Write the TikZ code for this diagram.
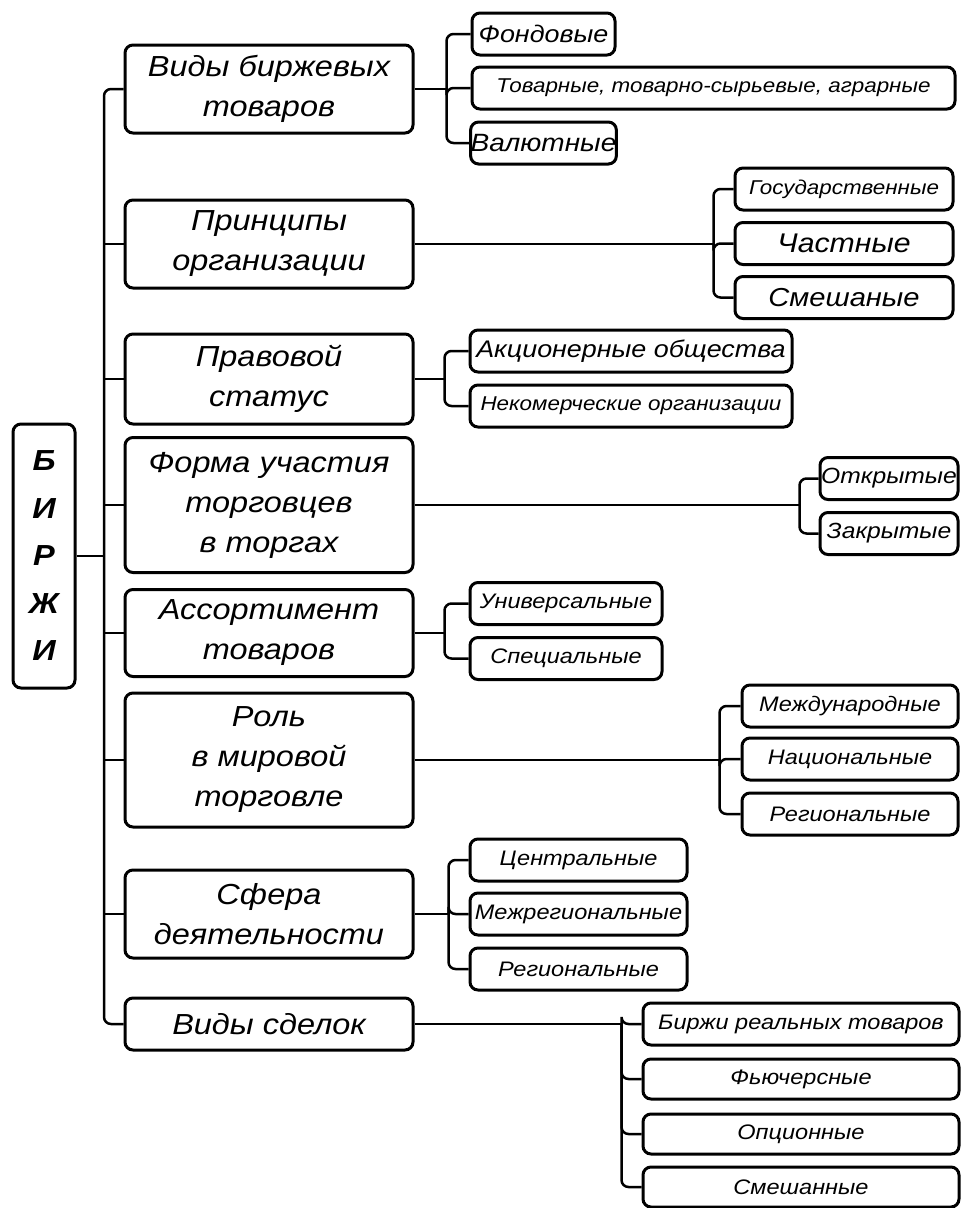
\documentclass[tikz,border=0pt]{standalone}
\usepackage{fontspec}
\setmainfont{Liberation Sans}
\newfontfamily\boxfont[FakeStretch=1.12]{Liberation Sans}
\tikzset{
  x=1pt, y=-1pt, % pixel-like units, y grows downwards
  frame/.style={draw, line width=3pt, rectangle, rounded corners=8pt,
    inner sep=0pt, align=center},
  rootbox/.style={frame, minimum width=62, minimum height=264,
    font=\boxfont\bfseries\itshape\fontsize{29}{47.5}\selectfont},
  catbox/.style={frame, minimum width=288,
    font=\boxfont\itshape\fontsize{29}{40}\selectfont},
  subbox/.style={frame, minimum height=42,
    font=\boxfont\itshape\fontsize{#1}{#1}\selectfont},
  subbox/.default=21,
  link/.style={line width=2.5pt},
  bracket/.style={line width=2.5pt, rounded corners=7},
}

\begin{document}
\begin{tikzpicture}
  \useasboundingbox (0,0) rectangle (961,1208);

  \node[rootbox] (birzhi) at (44,556) {Б\\И\\Р\\Ж\\И};

  % categories
  \node[catbox, minimum height=88] (vidy) at (269,89) {Виды биржевых\\товаров};
  \node[catbox, minimum height=88] (princ) at (269,244) {Принципы\\организации};
  \node[catbox, minimum height=90] (pravo) at (269,379) {Правовой\\статус};
  \node[catbox, minimum height=135] (forma) at (269,505) {Форма участия\\торговцев\\в торгах};
  \node[catbox, minimum height=87] (assort) at (269,633) {Ассортимент\\товаров};
  \node[catbox, minimum height=134] (rol) at (269,760) {Роль\\в мировой\\торговле};
  \node[catbox, minimum height=88] (sfera) at (269,914) {Сфера\\деятельности};
  \node[catbox, minimum height=52] (sdelki) at (269,1024) {Виды сделок};

  % sub-boxes
  \node[subbox=24, minimum width=143] (fond) at (543.5,34) {Фондовые};
  \node[subbox=20, minimum width=483] (tovar) at (713.5,88) {Товарные, товарно-сырьевые, аграрные};
  \node[subbox=25, minimum width=143] (valut) at (543.5,143) {Валютные};

  \node[subbox=20, minimum width=218] (gos) at (844,189) {Государственные};
  \node[subbox=27, minimum width=218] (chast) at (844,243.5) {Частные};
  \node[subbox=26, minimum width=218] (smesh) at (844,297.5) {Смешаные};

  \node[subbox=24, minimum width=322] (akc) at (631,351) {Акционерные общества};
  \node[subbox=20, minimum width=322] (nekom) at (631,406) {Некомерческие организации};

  \node[subbox=22, minimum width=138] (otkr) at (889,478.5) {Открытые};
  \node[subbox=22, minimum width=138] (zakr) at (889,533.5) {Закрытые};

  \node[subbox, minimum width=192] (univ) at (566,603.5) {Универсальные};
  \node[subbox, minimum width=192] (spec) at (566,658.5) {Специальные};

  \node[subbox, minimum width=216] (mezhd) at (850,706) {Международные};
  \node[subbox, minimum width=216] (nac) at (850,759) {Национальные};
  \node[subbox, minimum width=216] (regn) at (850,814) {Региональные};

  \node[subbox, minimum width=217] (centr) at (578.5,860) {Центральные};
  \node[subbox, minimum width=217] (mezhreg) at (578.5,914) {Межрегиональные};
  \node[subbox, minimum width=217] (regs) at (578.5,969) {Региональные};

  \node[subbox, minimum width=316] (real) at (801,1024) {Биржи реальных товаров};
  \node[subbox, minimum width=316, minimum height=40] (fut) at (801,1079) {Фьючерсные};
  \node[subbox, minimum width=316, minimum height=40] (opc) at (801,1134) {Опционные};
  \node[subbox, minimum width=316, minimum height=40] (smeshan) at (801,1187) {Смешанные};

  % trunk
  \coordinate (trunk) at (104,556);
  \draw[bracket] (vidy.west) -| (trunk) |- (sdelki.west);
  \draw[link] (birzhi.east) -- (trunk);
  \foreach \c in {princ,pravo,forma,assort,rol,sfera}
    \draw[link] (\c.west) -- (\c.west -| trunk);

  % brackets to sub-boxes
  \draw[link] (vidy.east) -- ++(32,0) coordinate (b1);
  \foreach \s in {fond,tovar,valut} \draw[bracket] (b1) |- (\s.west);
  \draw[link] (princ.east) -- ++(299,0) coordinate (b2);
  \foreach \s in {gos,chast,smesh} \draw[bracket] (b2) |- (\s.west);
  \draw[link] (pravo.east) -- ++(30,0) coordinate (b3);
  \foreach \s in {akc,nekom} \draw[bracket] (b3) |- (\s.west);
  \draw[link] (forma.east) -- ++(385,0) coordinate (b4);
  \foreach \s in {otkr,zakr} \draw[bracket] (b4) |- (\s.west);
  \draw[link] (assort.east) -- ++(30,0) coordinate (b5);
  \foreach \s in {univ,spec} \draw[bracket] (b5) |- (\s.west);
  \draw[link] (rol.east) -- ++(305,0) coordinate (b6);
  \foreach \s in {mezhd,nac,regn} \draw[bracket] (b6) |- (\s.west);
  \draw[link] (sfera.east) -- ++(34,0) coordinate (b7);
  \foreach \s in {centr,mezhreg,regs} \draw[bracket] (b7) |- (\s.west);
  \draw[link] (sdelki.east) -- ++(207,0) coordinate (b8);
  \foreach \s in {real,fut,opc,smeshan} \draw[bracket] (b8) |- (\s.west);
\end{tikzpicture}
\end{document}
